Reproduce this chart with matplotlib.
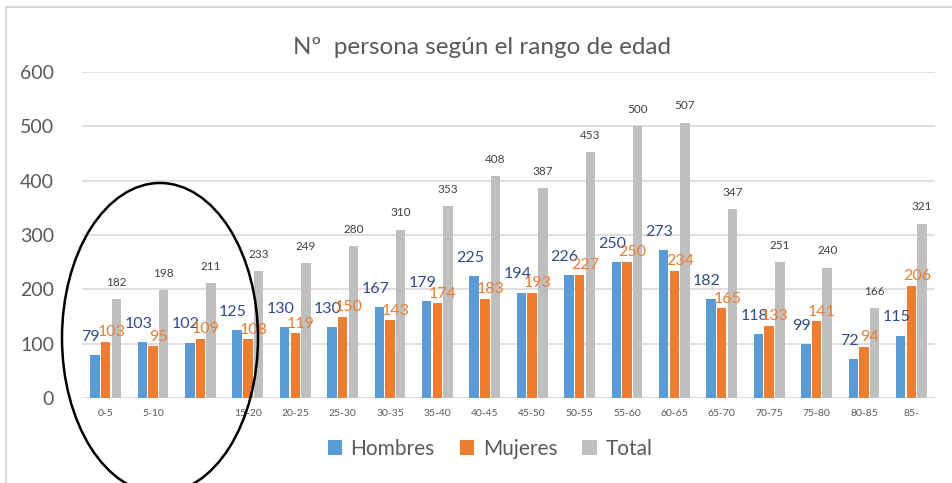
import matplotlib
matplotlib.use("Agg")
import matplotlib.pyplot as plt
import numpy as np
from matplotlib.patches import Ellipse
from matplotlib.lines import Line2D

categories = ["0-5", "5-10", "", "15-20", "20-25", "25-30", "30-35", "35-40", "40-45",
              "45-50", "50-55", "55-60", "60-65", "65-70", "70-75", "75-80", "80-85", "85-"]
hombres = [79, 103, 102, 125, 130, 130, 167, 179, 225, 194, 226, 250, 273, 182, 118, 99, 72, 115]
mujeres = [103, 95, 109, 108, 119, 150, 143, 174, 183, 193, 227, 250, 234, 165, 133, 141, 94, 206]
total = [182, 198, 211, 233, 249, 280, 310, 353, 408, 387, 453, 500, 507, 347, 251, 240, 166, 321]
yticks = [0, 100, 200, 300, 400, 500, 600]

plt.rcParams['font.family'] = ['Lato', 'DejaVu Sans']

W, H = 953, 483
fig = plt.figure(figsize=(W / 100, H / 100), dpi=100)
L, R, B, T = 82, 935, 398, 72
ax = fig.add_axes([L / W, 1 - B / H, (R - L) / W, (B - T) / H])

c_h, c_m, c_t = "#5B9BD5", "#ED7D31", "#BFBFBF"
x = np.arange(len(categories))
bw = 0.2
off = 0.225
ax.bar(x - off, hombres, bw, color=c_h, label="Hombres", zorder=3)
ax.bar(x, mujeres, bw, color=c_m, label="Mujeres", zorder=3)
ax.bar(x + off, total, bw, color=c_t, label="Total", zorder=3)

for i in range(len(categories)):
    ax.annotate(str(hombres[i]), (x[i] - off, hombres[i]), xytext=(-3, 8), textcoords="offset points",
                ha="center", va="bottom", fontsize=11.5, color="#2F4B8C", zorder=4)
    ax.annotate(str(mujeres[i]), (x[i], mujeres[i]), xytext=(4, 2), textcoords="offset points",
                ha="center", va="bottom", fontsize=11.5, color=c_m, zorder=4)
    ax.annotate(str(total[i]), (x[i] + off, total[i]), xytext=(0, 8), textcoords="offset points",
                ha="center", va="bottom", fontsize=8.5, color="#404040", zorder=4)

ax.set_xlim(-0.5, len(categories) - 0.5)
ax.set_ylim(0, 600)
ax.set_yticks(yticks)
ax.set_yticklabels([str(v) for v in yticks], fontsize=14, color="#595959")
ax.set_xticks(x)
ax.set_xticklabels(categories, fontsize=7.5, color="#595959")
ax.tick_params(axis="both", length=0)
ax.tick_params(axis="x", pad=8)
ax.tick_params(axis="y", pad=20)
ax.grid(axis="y", color="#D9D9D9", linewidth=1.2, zorder=0)
for s in ax.spines.values():
    s.set_visible(False)
ax.axhline(0, color="#D9D9D9", linewidth=1.2, zorder=2)

fig.text(482 / W, 1 - 47 / H, "Nº  persona según el rango de edad", ha="center", va="center",
         fontsize=17.5, color="#595959")

leg = fig.legend(loc="center", bbox_to_anchor=(490 / W, 1 - 449 / H), ncol=3, frameon=False,
                 fontsize=15, handlelength=0.7, handleheight=0.7, columnspacing=1.2, handletextpad=0.4)
for t in leg.get_texts():
    t.set_color("#595959")

# frame
fig.add_artist(Line2D([6 / W, 1], [1 - 7 / H, 1 - 7 / H], transform=fig.transFigure, color="#D9D9D9", lw=1.5))
fig.add_artist(Line2D([6 / W, 6 / W], [0, 1 - 7 / H], transform=fig.transFigure, color="#D9D9D9", lw=1.5))

# ellipse
fig.add_artist(Ellipse((160 / W, 1 - 338 / H), 196 / W, 310 / H, transform=fig.transFigure,
                       fill=False, edgecolor="black", lw=1.8, zorder=10))

fig.savefig("out.png", dpi=100)
